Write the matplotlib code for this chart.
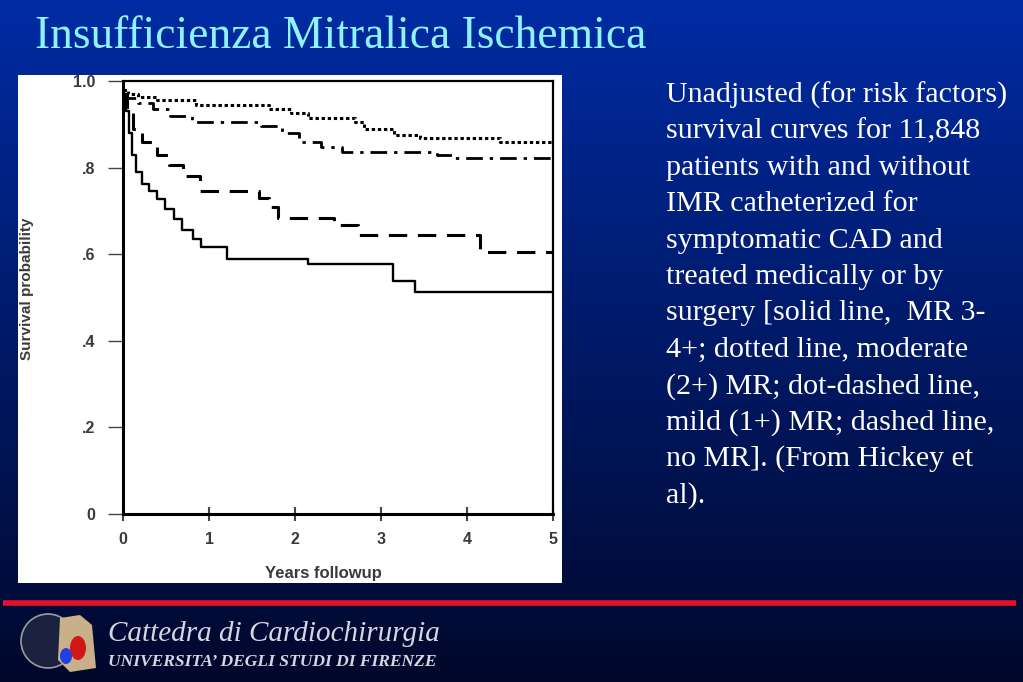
import numpy as np
import matplotlib
matplotlib.use('Agg')
import matplotlib.pyplot as plt
from matplotlib.patches import Rectangle, Circle, Polygon, Ellipse

# Kaplan-Meier style curves (years, survival)
t_solid = [0, 0.03, 0.07, 0.11, 0.15, 0.22, 0.30, 0.40, 0.49, 0.59, 0.69, 0.81, 0.91, 1.21, 2.15, 3.14, 3.40, 5.0]
s_solid = [0.97, 0.93, 0.88, 0.83, 0.79, 0.762, 0.745, 0.728, 0.705, 0.682, 0.655, 0.636, 0.617, 0.588, 0.577, 0.537, 0.512, 0.512]

t_dashed = [0, 0.05, 0.12, 0.22, 0.40, 0.53, 0.70, 0.89, 1.58, 1.70, 1.80, 2.45, 2.73, 4.15, 5.0]
s_dashed = [0.97, 0.93, 0.89, 0.86, 0.83, 0.805, 0.78, 0.745, 0.73, 0.71, 0.683, 0.667, 0.645, 0.605, 0.605]

t_dotdash = [0, 0.05, 0.18, 0.35, 0.55, 0.80, 1.60, 1.85, 2.05, 2.30, 2.55, 3.65, 3.85, 5.0]
s_dotdash = [0.97, 0.96, 0.95, 0.935, 0.92, 0.905, 0.895, 0.88, 0.86, 0.848, 0.837, 0.83, 0.822, 0.822]

t_dotted = [0, 0.06, 0.18, 0.40, 0.85, 1.70, 1.95, 2.15, 2.70, 2.80, 3.15, 3.45, 4.38, 5.0]
s_dotted = [0.98, 0.97, 0.962, 0.955, 0.945, 0.935, 0.925, 0.915, 0.905, 0.888, 0.876, 0.868, 0.858, 0.858]

x_ticks = [0, 1, 2, 3, 4, 5]
y_ticks = [0, 0.2, 0.4, 0.6, 0.8, 1.0]
y_ticklabels = ['0', '.2', '.4', '.6', '.8', '1.0']

title = 'Insufficienza Mitralica Ischemica'
caption_lines = [
    'Unadjusted (for risk factors)',
    'survival curves for 11,848',
    'patients with and without',
    'IMR catheterized for',
    'symptomatic CAD and',
    'treated medically or by',
    'surgery [solid line,  MR 3-',
    '4+; dotted line, moderate',
    '(2+) MR; dot-dashed line,',
    'mild (1+) MR; dashed line,',
    'no MR]. (From Hickey et',
    'al).',
]

W, H = 1023, 682
fig = plt.figure(figsize=(W / 100, H / 100), dpi=100)

# background gradient
bg = fig.add_axes([0, 0, 1, 1])
bg.set_axis_off()
top = np.array([0.0, 0.17, 0.64])
bot = np.array([0.0, 0.03, 0.17])
g = np.linspace(0, 1, 256)[:, None]
grad = top[None, :] * (1 - g) + bot[None, :] * g
bg.imshow(grad[:, None, :].repeat(2, axis=1), aspect='auto', extent=[0, W, H, 0])
bg.set_xlim(0, W)
bg.set_ylim(H, 0)

# title
bg.text(35, 48, title, color='#8ef2ff', fontsize=32.8, family='Liberation Serif', va='baseline', ha='left')

# caption on the right
for i, line in enumerate(caption_lines):
    bg.text(666, 95 + i * 36.4, line, color='white', fontsize=21.6, family='Liberation Serif',
            va='center', ha='left')

# white panel behind the chart
bg.add_patch(Rectangle((18, 75), 544, 508, facecolor='white', edgecolor='none'))

# red rule near bottom
bg.plot([3, 1016], [603, 603], color='#e8102c', lw=4, solid_capstyle='butt')

# crude logo
bg.add_patch(Circle((48, 641), 27, facecolor='#1a2240', edgecolor='#9a9aa0', lw=1.2))
bg.add_patch(Polygon([[60, 618], [80, 615], [92, 625], [96, 668], [70, 672], [58, 660]],
                     closed=True, facecolor='#c8b08a', edgecolor='none'))
bg.add_patch(Ellipse((78, 648), 16, 24, facecolor='#d01818', edgecolor='none'))
bg.add_patch(Ellipse((66, 656), 12, 16, facecolor='#2040e0', edgecolor='none'))

bg.text(108, 634, 'Cattedra di Cardiochirurgia', color='#d6d6e2', fontsize=21,
        family='Liberation Serif', style='italic', va='center', ha='left')
bg.text(108, 662, 'UNIVERSITA\u2019 DEGLI STUDI DI FIRENZE', color='#d6d6e2', fontsize=12.6,
        family='Liberation Serif', style='italic', weight='bold', va='center', ha='left')

# survival chart
ax = fig.add_axes([123 / W, 1 - 514 / H, 430 / W, 433 / H])
ax.set_facecolor('white')
ax.plot(t_solid, s_solid, color='black', lw=1.7, drawstyle='steps-post')
ax.plot(t_dashed, s_dashed, color='black', lw=2.2, ls=(0, (6, 3.5)), drawstyle='steps-post')
ax.plot(t_dotdash, s_dotdash, color='black', lw=2.0, ls=(0, (6, 2.5, 1.2, 2.5)), drawstyle='steps-post')
ax.plot(t_dotted, s_dotted, color='black', lw=2.2, ls=(0, (1.1, 0.9)), drawstyle='steps-post')

ax.set_xlim(0, 5)
ax.set_ylim(0, 1.0)
ax.set_xticks(x_ticks)
ax.set_yticks(y_ticks)
ax.set_yticklabels(y_ticklabels)
ax.tick_params(axis='y', direction='out', length=11, width=1.0, pad=9, colors='#444444')
ax.tick_params(axis='x', direction='inout', length=10, width=1.5, pad=8, colors='#444444')
for lab in ax.get_xticklabels() + ax.get_yticklabels():
    lab.set_family('Liberation Sans')
    lab.set_fontsize(11.5)
    lab.set_weight('bold')
    lab.set_color('#3a3a3a')
ax.spines['left'].set_linewidth(2.2)
ax.spines['bottom'].set_linewidth(2.2)
ax.spines['right'].set_linewidth(1.6)
ax.spines['top'].set_linewidth(1.6)
ax.set_xlabel('Years followup', family='Liberation Sans', fontsize=12, weight='bold', color='#3a3a3a')
ax.set_ylabel('Survival probability', family='Liberation Sans', fontsize=11, weight='bold', color='#3a3a3a')
ax.xaxis.set_label_coords(0.465, -0.12)
ax.yaxis.set_label_coords(-0.207, 0.52)

fig.savefig('out.png', dpi=100)
